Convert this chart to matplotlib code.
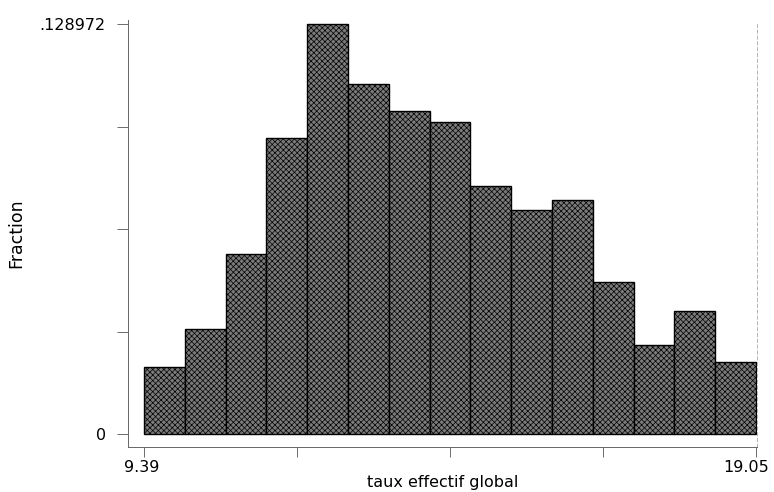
import numpy as np
import matplotlib
matplotlib.use("Agg")
from matplotlib import pyplot as plt
from matplotlib.transforms import ScaledTranslation

# histogram of "taux effectif global", 15 bins between min and max
x_min = 9.39
x_max = 19.05
fractions = [0.0211, 0.0330, 0.0566, 0.0931, 0.128972, 0.1101, 0.1016, 0.0981,
             0.0780, 0.0705, 0.0736, 0.0478, 0.0280, 0.0387, 0.0227]
y_top_label = 0.128972

plt.rcParams['font.family'] = ['DejaVu Sans']
plt.rcParams['hatch.color'] = '#3a3a3a'
plt.rcParams['hatch.linewidth'] = 0.5

n_bins = len(fractions)
edges = np.linspace(x_min, x_max, n_bins + 1)
width = edges[1] - edges[0]

fig = plt.figure(figsize=(7.74, 4.92), dpi=100)
ax = fig.add_axes([128 / 774, 1 - 447 / 492, (757 - 128) / 774, (447 - 20) / 492])

ax.bar(edges[:-1], fractions, width=width, align='edge',
       color='#7a7a7a', edgecolor='black', linewidth=1.0,
       hatch='xxxxxx')

ax.set_xlim(x_min - 16 / 63.35, x_max + 1 / 63.35)
ax.set_ylim(-13 / 3179, y_top_label + 4 / 3179)

ax.set_xticks(np.linspace(x_min, x_max, 5))
ax.set_xticklabels([f"{x_min:.2f}", "", "", "", f"{x_max:.2f}"])
ax.set_yticks(np.linspace(0, y_top_label, 5))
ax.set_yticklabels(["0", "", "", "", f"{y_top_label:.6f}".lstrip("0")])

ax.tick_params(axis='y', length=8, width=0.6, color='#555555',
               labelsize=11.5, pad=8)
ax.tick_params(axis='x', length=7.5, width=0.6, color='#555555',
               labelsize=11.5, pad=2)

# last x label sits a little left of its tick, as in the original
last = ax.get_xticklabels()[-1]
last.set_transform(last.get_transform() + ScaledTranslation(-10 / 100, 0, fig.dpi_scale_trans))
first = ax.get_xticklabels()[0]
first.set_transform(first.get_transform() + ScaledTranslation(-2 / 100, 0, fig.dpi_scale_trans))

ax.spines['top'].set_visible(False)
for side in ['left', 'bottom']:
    ax.spines[side].set_linewidth(0.7)
    ax.spines[side].set_color('#666666')
    ax.spines[side].set_linestyle((0, (6, 1)))
ax.spines['right'].set_linewidth(0.6)
ax.spines['right'].set_color('#aaaaaa')
ax.spines['right'].set_linestyle((0, (4, 3)))
ax.spines['right'].set_bounds(-13 / 3179, y_top_label)

ax.set_xlabel("taux effectif global", fontsize=11.5, labelpad=0)
ax.set_ylabel("Fraction", fontsize=12.5)
ax.yaxis.set_label_coords(-103 / 629, 0.5)

fig.savefig("out.png", dpi=100)
